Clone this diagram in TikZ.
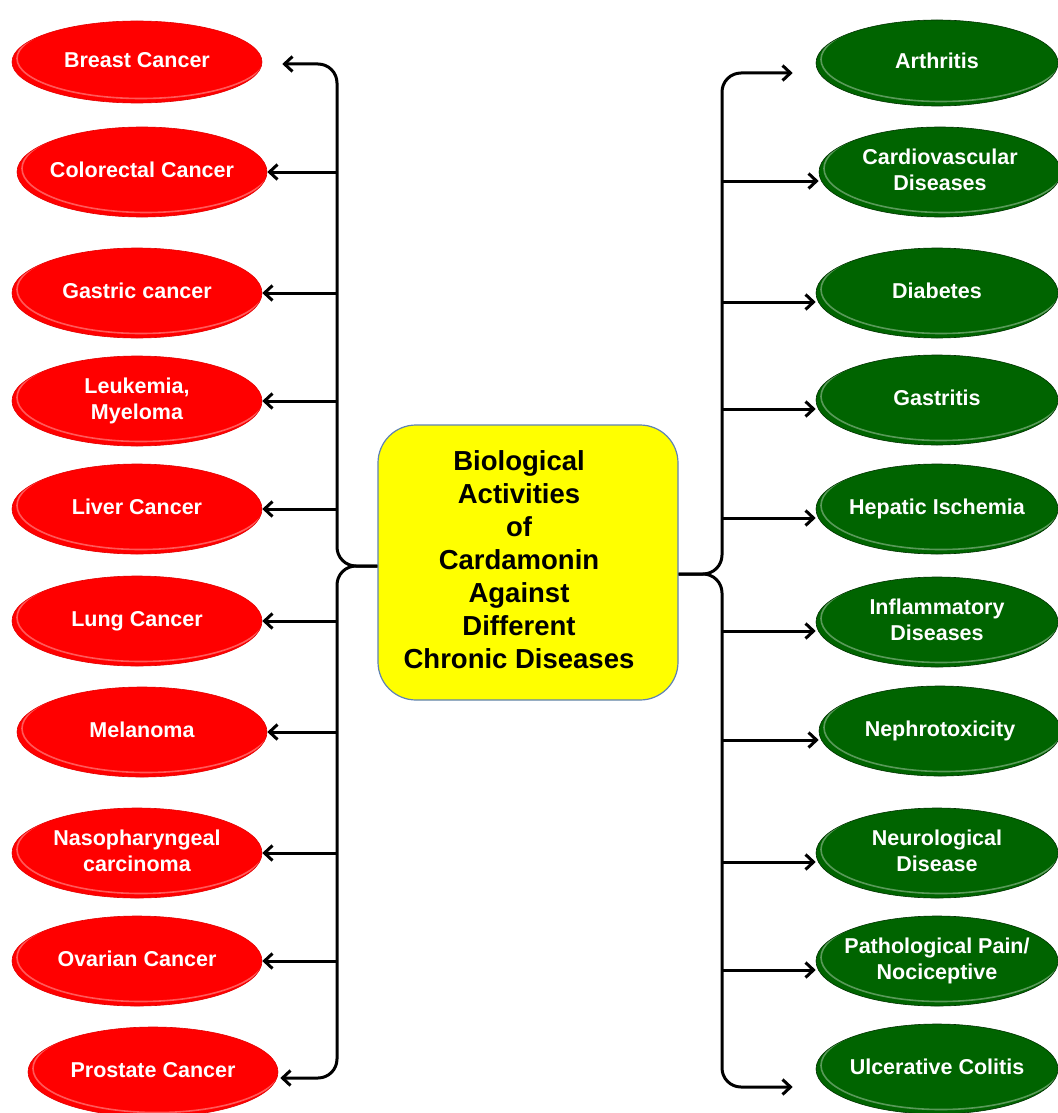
\documentclass[tikz,border=0pt]{standalone}
\usepackage{fontspec}
\setmainfont{Liberation Sans}
\usetikzlibrary{shapes.geometric,arrows.meta,calc}
\definecolor{cred}{RGB}{255,0,0}
\definecolor{credd}{RGB}{225,0,0}
\definecolor{cgreen}{RGB}{0,100,0}
\definecolor{cgreend}{RGB}{0,50,0}
\definecolor{cyel}{RGB}{255,255,0}
\definecolor{cbox}{RGB}{95,130,180}
\newcommand{\etx}[1]{\makebox[0pt]{\begin{tabular}{@{}c@{}}#1\end{tabular}}}
\begin{document}
\begin{tikzpicture}[x=1pt,y=-1pt,
  ell/.style={ellipse, minimum width=250pt, minimum height=90pt, inner sep=0pt,
    text=white, font=\fontsize{21.5}{26}\selectfont\bfseries, line width=0.6pt,
    path picture={\path let \p1=($(path picture bounding box.north east)-(path picture bounding box.center)$) in
      [draw=white, draw opacity=0.35, line width=1.6pt]
      ([shift={(4pt,3.5pt)}]path picture bounding box.center) ellipse [x radius=\x1-1pt, y radius=\y1-1pt];}},
  redell/.style={ell, fill=cred, draw=credd},
  greenell/.style={ell, fill=cgreen, draw=cgreend, minimum width=242pt},
  arr/.style={-{Straight Barb[length=8pt,width=15pt]}, line width=3pt, black},
  brace/.style={arr, rounded corners=19pt}
]
\useasboundingbox (0,0) rectangle (1057,1113);

% centre box
\node[draw=cbox, fill=cyel, rounded corners=38pt, minimum width=300pt, minimum height=275pt,
  line width=1.2pt, font=\fontsize{27.5}{33}\selectfont\bfseries, inner sep=0pt]
  (c) at (528,562.5) {\makebox[0pt]{\begin{tabular}{@{}c@{}}Biological\\Activities\\of\\Cardamonin\\Against\\Different\\Chronic Diseases\end{tabular}\hspace*{18pt}}};

% left (red) ellipses
\node[redell, minimum height=82pt] (e1) at (137,62) {\etx{Breast Cancer}};
\node[redell] (e2) at (142,172) {\etx{Colorectal Cancer}};
\node[redell] (e3) at (137,293) {\etx{Gastric cancer}};
\node[redell] (e4) at (137,401) {\etx{Leukemia,\\Myeloma}};
\node[redell] (e5) at (137,509) {\etx{Liver Cancer}};
\node[redell] (e6) at (137,621) {\etx{Lung Cancer}};
\node[redell] (e7) at (142,732) {\etx{Melanoma}};
\node[redell] (e8) at (137,853) {\etx{Nasopharyngeal\\carcinoma}};
\node[redell] (e9) at (137,961) {\etx{Ovarian Cancer}};
\node[redell] (e10) at (153,1072) {\etx{Prostate Cancer}};

% right (green) ellipses
\node[greenell, minimum height=86pt] (e11) at (937,63) {\etx{Arthritis}};
\node[greenell] (e12) at (940,172) {\etx{Cardiovascular\\Diseases}};
\node[greenell] (e13) at (937,293) {\etx{Diabetes}};
\node[greenell] (e14) at (937,400) {\etx{Gastritis}};
\node[greenell] (e15) at (937,509) {\etx{Hepatic Ischemia}};
\node[greenell] (e16) at (937,622) {\etx{Inflammatory\\Diseases}};
\node[greenell] (e17) at (940,731) {\etx{Nephrotoxicity}};
\node[greenell] (e18) at (937,853) {\etx{Neurological\\Disease}};
\node[greenell] (e19) at (937,961) {\etx{Pathological Pain/\\Nociceptive}};
\node[greenell] (e20) at (937,1069) {\etx{Ulcerative Colitis}};

% spines
\coordinate (SL) at (337,566);
\coordinate (SR) at (722,574);

% left braces
\draw[brace] ([yshift=-3.5pt]c.west) -- (SL) |- ([xshift=20pt,yshift=-2pt]e1.east);
\draw[brace] ([yshift=-3.5pt]c.west) -- (SL) |- ([xshift=2pt,yshift=-6pt]e10.east);
% left branches
\foreach \i in {2,...,9}{
  \draw[arr] (SL |- e\i.east) -- (e\i.east);
}

% right braces
\draw[brace] ([yshift=-11.5pt]c.east) -- (SR) |- ([xshift=-23pt,yshift=-10pt]e11.west);
\draw[brace] ([yshift=-11.5pt]c.east) -- (SR) |- ([xshift=-23pt,yshift=-18pt]e20.west);
% right branches
\foreach \i in {12,...,19}{
  \coordinate (a\i) at ([yshift=-9pt]e\i.west);
  \draw[arr] (SR |- a\i) -- (a\i);
}
\end{tikzpicture}
\end{document}
